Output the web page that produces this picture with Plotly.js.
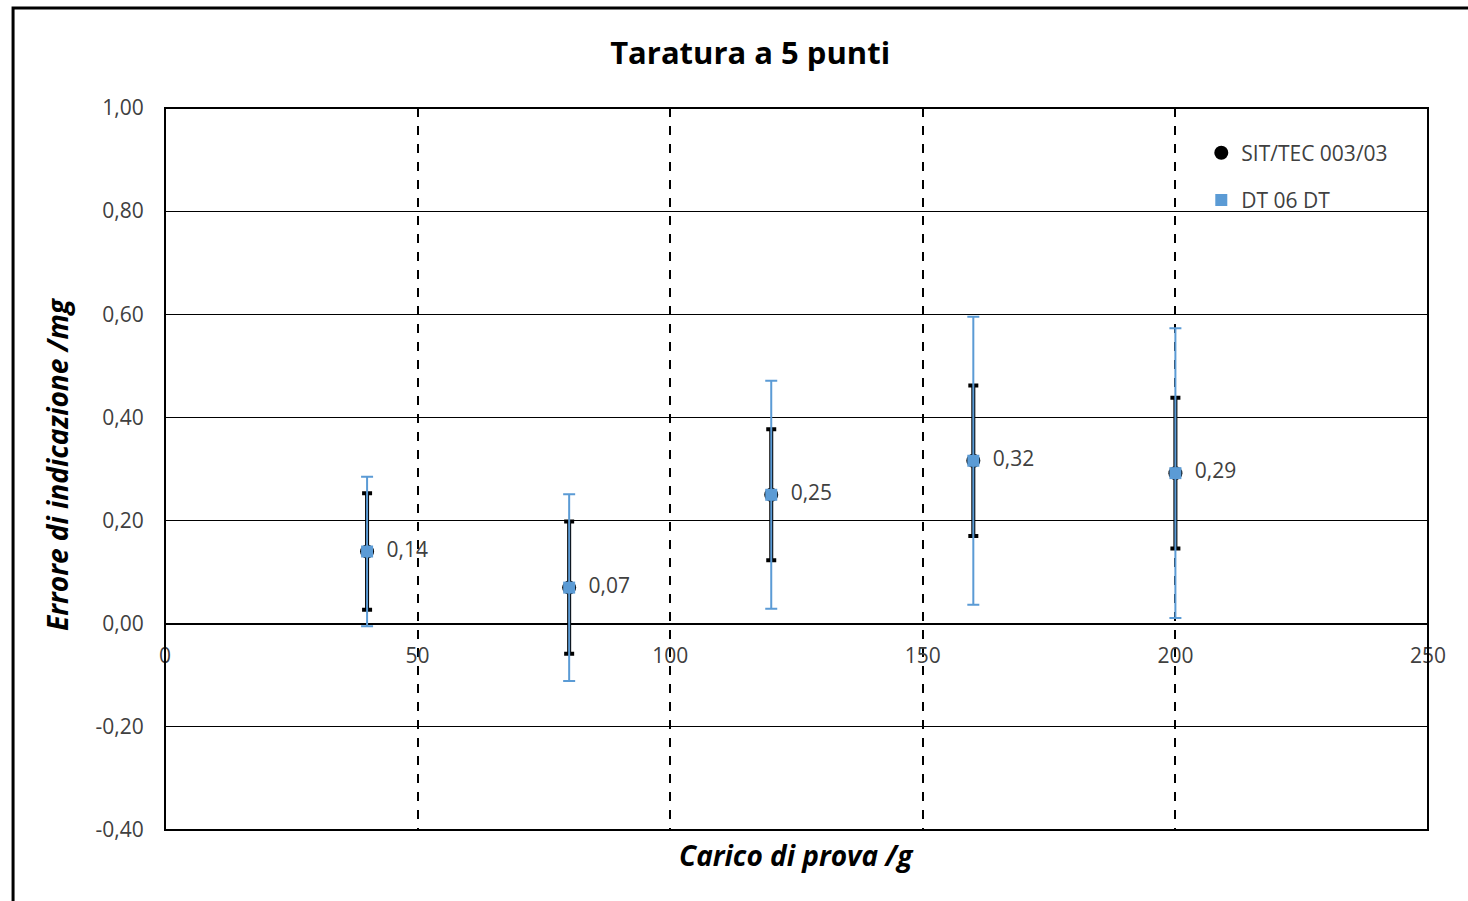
<!DOCTYPE html>
<html>
<head>
<meta charset="utf-8">
<script src="https://cdn.plot.ly/plotly-3.0.1.min.js"></script>
<style>
  html, body { margin: 0; padding: 0; background: #fff; }
  #chart { width: 1468px; height: 901px; }
</style>
</head>
<body>
<div id="chart"></div>
<script>
// Data
const loads = [40, 80, 120, 160, 200];
const errors = [0.14, 0.07, 0.25, 0.316, 0.292];
const uncSIT = [0.113, 0.128, 0.127, 0.146, 0.146];
const uncDT = [0.145, 0.181, 0.221, 0.279, 0.281];
const seriesNames = ['SIT/TEC 003/03', 'DT 06 DT'];
const xTicks = [0, 50, 100, 150, 200, 250];
const yTicks = [-0.4, -0.2, 0, 0.2, 0.4, 0.6, 0.8, 1.0];
const yTickText = ['-0,40', '-0,20', '0,00', '0,20', '0,40', '0,60', '0,80', '1,00'];

const FONT = '"Open Sans", Lato, sans-serif';
const BLUE = '#5B9BD5';
const GREY = '#404040';

const traces = [
  {
    x: loads, y: errors, name: seriesNames[0], type: 'scatter', mode: 'markers',
    legendgroup: 'a',
    marker: { symbol: 'circle', size: 14, color: '#000' },
    error_y: { type: 'data', array: uncSIT, visible: true, color: '#000', thickness: 4, width: 5 }
  },
  {
    x: loads, y: errors, name: seriesNames[1], type: 'scatter', mode: 'markers+text',
    legendgroup: 'b',
    marker: { symbol: 'square', size: 12, color: BLUE },
    error_y: { type: 'data', array: uncDT, visible: true, color: BLUE, thickness: 2, width: 6 },
    texttemplate: '  %{y:.2f}', textposition: 'middle right',
    textfont: { family: FONT, size: 21, color: GREY }
  }
];

const layout = {
  width: 1468, height: 901,
  margin: { l: 165, r: 40, t: 108, b: 71 },
  paper_bgcolor: '#fff', plot_bgcolor: '#fff',
  separators: ',.',
  font: { family: FONT, size: 21, color: GREY },
  title: {
    text: 'Taratura a 5 punti', xref: 'container', x: 0.511, xanchor: 'center',
    yref: 'container', y: 1 - 53 / 901, yanchor: 'middle',
    font: { family: FONT, size: 31, color: '#000', weight: 'bold' }
  },
  showlegend: true,
  legend: {
    x: 0.8205, y: 0.966, xanchor: 'left', yanchor: 'top',
    bgcolor: 'rgba(0,0,0,0)', font: { family: FONT, size: 21, color: GREY },
    traceorder: 'grouped', tracegroupgap: 17, itemwidth: 30
  },
  xaxis: {
    range: [0, 250], tickvals: xTicks, ticktext: xTicks.map(String),
    anchor: 'free', position: 0.4 / 1.4,
    showline: false, zeroline: false,
    showgrid: true, gridcolor: '#000', gridwidth: 2, griddash: 'dash',
    ticks: 'outside', ticklen: 13, tickcolor: 'rgba(0,0,0,0)',
    tickfont: { family: FONT, size: 21, color: GREY },
    fixedrange: true
  },
  yaxis: {
    range: [-0.4, 1.0], tickvals: yTicks, ticktext: yTickText,
    showline: false, zeroline: true, zerolinecolor: '#000', zerolinewidth: 2,
    showgrid: true, gridcolor: '#000', gridwidth: 1,
    ticks: 'outside', ticklen: 16, tickcolor: 'rgba(0,0,0,0)',
    tickfont: { family: FONT, size: 21, color: GREY },
    fixedrange: true
  },
  annotations: [
    { text: '<b><i>Carico di prova /g</i></b>', xref: 'paper', yref: 'paper',
      x: 0.5, y: -0.0346, xanchor: 'center', yanchor: 'middle', showarrow: false,
      font: { family: FONT, size: 28, color: '#000' } },
    { text: '<b><i>Errore di indicazione /mg</i></b>', xref: 'paper', yref: 'paper',
      x: -0.0855, y: 0.507, xanchor: 'center', yanchor: 'middle', showarrow: false, textangle: -90,
      font: { family: FONT, size: 28, color: '#000' } }
  ],
  shapes: [
    { type: 'rect', xref: 'paper', yref: 'paper', x0: 0, x1: 1, y0: 0, y1: 1,
      line: { color: '#000', width: 2 }, fillcolor: 'rgba(0,0,0,0)', layer: 'above' },
    { type: 'rect', xref: 'paper', yref: 'paper', x0: -0.1203, x1: 1.2, y0: -0.2, y1: 1.1385,
      line: { color: '#000', width: 3 }, fillcolor: 'rgba(0,0,0,0)', layer: 'above' }
  ]
};

Plotly.newPlot('chart', traces, layout, { displayModeBar: false, staticPlot: true });
</script>
</body>
</html>
